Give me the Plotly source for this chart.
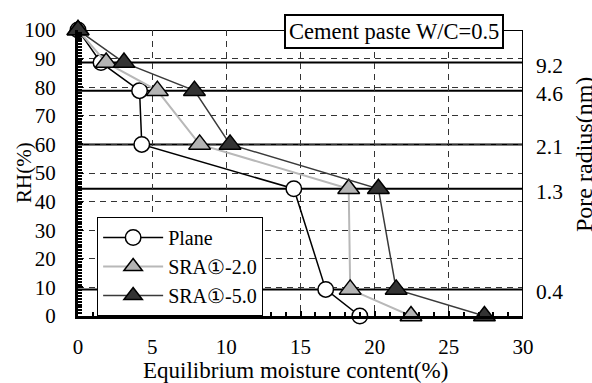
import plotly.graph_objects as go

# Relative humidity steps (%) of the desorption test
rh = [100, 88.6, 78.8, 60, 44.5, 9.3, 0]

# Equilibrium moisture content (%) at each RH step
moisture_plane = [0, 1.55, 4.15, 4.3, 14.55, 16.7, 19.0]
moisture_sra_2 = [0, 1.9, 5.35, 8.2, 18.25, 18.35, 22.45]
moisture_sra_5 = [0, 3.1, 7.85, 10.25, 20.25, 21.45, 27.4]

# Pore radius (nm) corresponding to each intermediate RH step
pore_rh = [88.6, 78.8, 60, 44.5, 9.3]
pore_radius = ["9.2", "4.6", "2.1", "1.3", "0.4"]

series_names = ["Plane", "SRA①-2.0", "SRA①-5.0"]

FONT = "Times New Roman"

fig = go.Figure()

fig.add_trace(go.Scatter(
    x=moisture_plane, y=rh, name=series_names[0], mode="lines+markers",
    line=dict(color="#000000", width=1.5),
    marker=dict(symbol="circle", size=15.5, color="#ffffff",
                line=dict(color="#000000", width=1.5)),
    cliponaxis=False,
))
fig.add_trace(go.Scatter(
    x=moisture_sra_2, y=rh, name=series_names[1], mode="lines+markers",
    line=dict(color="#b8b8b8", width=2),
    marker=dict(symbol="triangle-up", size=19, color="#b4b4b4",
                line=dict(color="#000000", width=1.5)),
    cliponaxis=False,
))
fig.add_trace(go.Scatter(
    x=moisture_sra_5, y=rh, name=series_names[2], mode="lines+markers",
    line=dict(color="#3a3a3a", width=1.5),
    marker=dict(symbol="triangle-up", size=19, color="#333333",
                line=dict(color="#000000", width=1.5)),
    cliponaxis=False,
))

# Solid reference lines at the RH steps (and the top border at 100 %)
for level in [100] + pore_rh:
    fig.add_shape(type="line", xref="x", yref="y", x0=0, x1=30, y0=level, y1=level,
                  line=dict(color="#000000", width=2), layer="below")

# Right border of the plot
fig.add_shape(type="line", xref="x", yref="y", x0=30, x1=30, y0=0, y1=100,
              line=dict(color="#000000", width=2), layer="above")

# Pore radius labels on the right side
for level, label in zip(pore_rh, pore_radius):
    fig.add_annotation(x=1, xref="paper", y=level, yref="y", text=label,
                       showarrow=False, xanchor="left", yanchor="middle",
                       xshift=11, yshift=-3,
                       font=dict(family=FONT, size=21.5, color="#000000"))

# Axis titles
fig.add_annotation(x=0.5, xref="paper", y=0, yref="paper",
                   text="Equilibrium moisture content(%)", showarrow=False,
                   xanchor="center", yanchor="middle", xshift=-5, yshift=-54,
                   font=dict(family=FONT, size=23, color="#000000"))
fig.add_annotation(x=0, xref="paper", y=0.5, yref="paper", text="RH(%)",
                   showarrow=False, textangle=-90, xanchor="center",
                   yanchor="middle", xshift=-54,
                   font=dict(family=FONT, size=21, color="#000000"))
fig.add_annotation(x=1, xref="paper", y=0.563, yref="paper", text="Pore radius(nm)",
                   showarrow=False, textangle=-90, xanchor="center",
                   yanchor="middle", xshift=61,
                   font=dict(family=FONT, size=24, color="#000000"))

# Specimen label box
fig.add_annotation(x=21.3, xref="x", y=99.5, yref="y", text="Cement paste W/C=0.5",
                   showarrow=False, xanchor="center", yanchor="middle",
                   bgcolor="#ffffff", bordercolor="#000000", borderwidth=2,
                   borderpad=3,
                   font=dict(family=FONT, size=22.5, color="#000000"))

fig.update_xaxes(
    range=[0, 30], dtick=5, tick0=0,
    showline=True, linecolor="#000000", linewidth=3,
    ticks="inside", ticklen=5, tickcolor="#000000", tickwidth=1.5,
    minor=dict(dtick=1, ticks="inside", ticklen=4, tickcolor="#000000", tickwidth=1.5,
               showgrid=False),
    showgrid=True, gridcolor="#333333", gridwidth=1, griddash="6px,5px",
    zeroline=False, ticklabelstandoff=10,
    tickfont=dict(family=FONT, size=21, color="#000000"),
)
fig.update_yaxes(
    range=[0, 100], dtick=10, tick0=0,
    showline=True, linecolor="#000000", linewidth=3,
    ticks="inside", ticklen=5, tickcolor="#000000", tickwidth=1.5,
    minor=dict(dtick=1, ticks="inside", ticklen=4, tickcolor="#000000", tickwidth=1.5,
               showgrid=False),
    showgrid=True, gridcolor="#333333", gridwidth=1, griddash="6px,5px",
    zeroline=False, ticklabelstandoff=15,
    tickfont=dict(family=FONT, size=21, color="#000000"),
)

fig.update_layout(
    width=592, height=383,
    margin=dict(l=78, r=69, t=30, b=67),
    paper_bgcolor="#ffffff", plot_bgcolor="#ffffff",
    font=dict(family=FONT, size=20, color="#000000"),
    showlegend=True,
    legend=dict(x=0.043, y=0.346, xanchor="left", yanchor="top",
                bgcolor="#ffffff", bordercolor="#000000", borderwidth=1,
                itemwidth=60, tracegroupgap=0,
                font=dict(family=FONT, size=20, color="#000000")),
)

fig.write_html("out.html")
